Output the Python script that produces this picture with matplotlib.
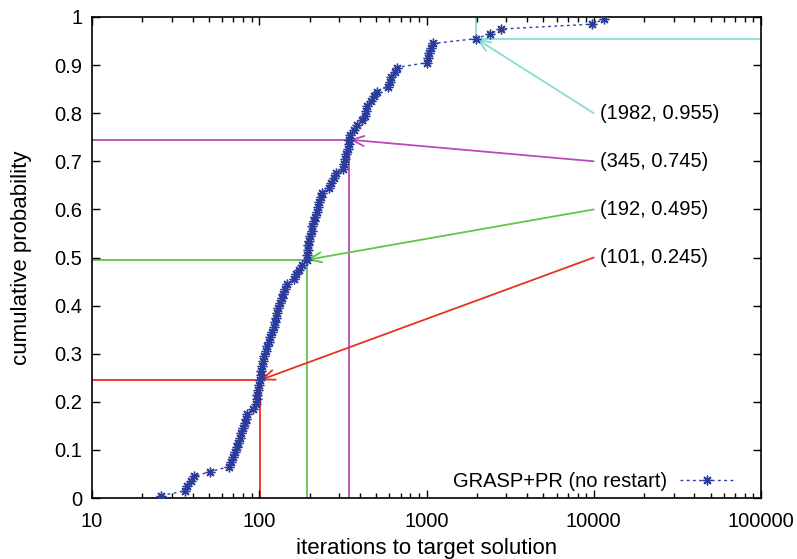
import matplotlib
matplotlib.use("Agg")
import matplotlib.pyplot as plt
from matplotlib.ticker import FixedLocator, LogLocator, NullFormatter

plt.rcParams['font.family'] = ['Liberation Sans', 'DejaVu Sans']

# iterations to target, one run per point (100 runs), sorted
iterations = [26, 36, 37, 39, 41, 51, 66, 68, 70, 72,
              74, 75, 77, 78, 80, 82, 83, 84, 92, 95,
              97, 97, 98, 99, 101, 102, 103, 104, 106, 107,
              109, 112, 114, 116, 119, 122, 125, 126, 128, 130,
              133, 136, 139, 143, 146, 162, 167, 172, 180, 192,
              194, 195, 196, 199, 202, 206, 208, 212, 215, 220,
              225, 229, 233, 236, 263, 270, 278, 286, 315, 321,
              327, 332, 338, 342, 345, 351, 371, 384, 411, 430,
              435, 441, 466, 486, 504, 585, 601, 617, 652, 666,
              1000, 1014, 1028, 1064, 1098, 1982, 2400, 2790, 9720, 11500]
probability = [(i + 0.5) / len(iterations) for i in range(len(iterations))]

# highlighted quantiles: (iterations, probability), label anchor prob, colour
marks_x = [101, 192, 345, 1982]
marks_y = [0.245, 0.495, 0.745, 0.955]
label_y = [0.5, 0.6, 0.7, 0.8]
mark_colors = ['#e8321f', '#5cc844', '#b94ab7', '#86ddd5']

fs = 14.5

fig = plt.figure(figsize=(7.97, 5.59), dpi=100)
ax = fig.add_axes([92 / 797, 61 / 559, 669 / 797, 481 / 559])

for mx, my, ly, c in zip(marks_x, marks_y, label_y, mark_colors):
    if mx < 1000:
        ax.plot([10, mx], [my, my], color=c, lw=1.3, zorder=1)
        ax.plot([mx, mx], [0, my], color=c, lw=1.3, zorder=1)
    else:
        ax.plot([mx, 100000], [my, my], color=c, lw=1.3, zorder=1)
        ax.plot([mx, mx], [my, 1], color=c, lw=1.3, zorder=1)
    ax.annotate('', xy=(mx, my), xytext=(10000, ly),
                arrowprops=dict(arrowstyle='->,head_length=0.5,head_width=0.2',
                                color=c, lw=1.3, shrinkA=0, shrinkB=0,
                                mutation_scale=18), zorder=2)
    ax.text(10900, ly, '(%d, %.3f)' % (mx, my), fontsize=fs,
            va='center', ha='left')

ax.plot(iterations, probability, linestyle=(0, (2, 2.5)), lw=1.0,
        color='#2b3c9c', marker=(8, 2, 0), markersize=7, markeredgewidth=1.0,
        label='GRASP+PR (no restart)', zorder=3)

ax.set_xscale('log')
ax.set_xlim(10, 100000)
ax.set_ylim(0, 1)
ax.xaxis.set_major_locator(FixedLocator([10, 100, 1000, 10000, 100000]))
ax.set_xticklabels(['10', '100', '1000', '10000', '100000'])
ax.xaxis.set_minor_locator(LogLocator(base=10, subs=range(2, 10)))
ax.xaxis.set_minor_formatter(NullFormatter())
yt = [i / 10 for i in range(11)]
ax.set_yticks(yt)
ax.set_yticklabels(['0'] + ['%.1f' % v for v in yt[1:-1]] + ['1'])

ax.tick_params(which='both', direction='in', top=True, right=True,
               labelsize=fs, width=1.0)
ax.tick_params(which='major', length=6)
ax.tick_params(axis='x', which='major', pad=10)
ax.tick_params(axis='y', which='major', pad=7)
ax.tick_params(which='minor', length=3.5)
for s in ax.spines.values():
    s.set_linewidth(1.2)

ax.set_xlabel('iterations to target solution', fontsize=16, labelpad=5)
ax.set_ylabel('cumulative probability', fontsize=16, labelpad=16)

ax.legend(loc='center right', bbox_to_anchor=(642 / 669, 16.3 / 481),
          frameon=False, markerfirst=False, fontsize=fs,
          handlelength=2.68, handletextpad=0.65,
          borderpad=0, borderaxespad=0)

fig.savefig('out.png', dpi=100)
